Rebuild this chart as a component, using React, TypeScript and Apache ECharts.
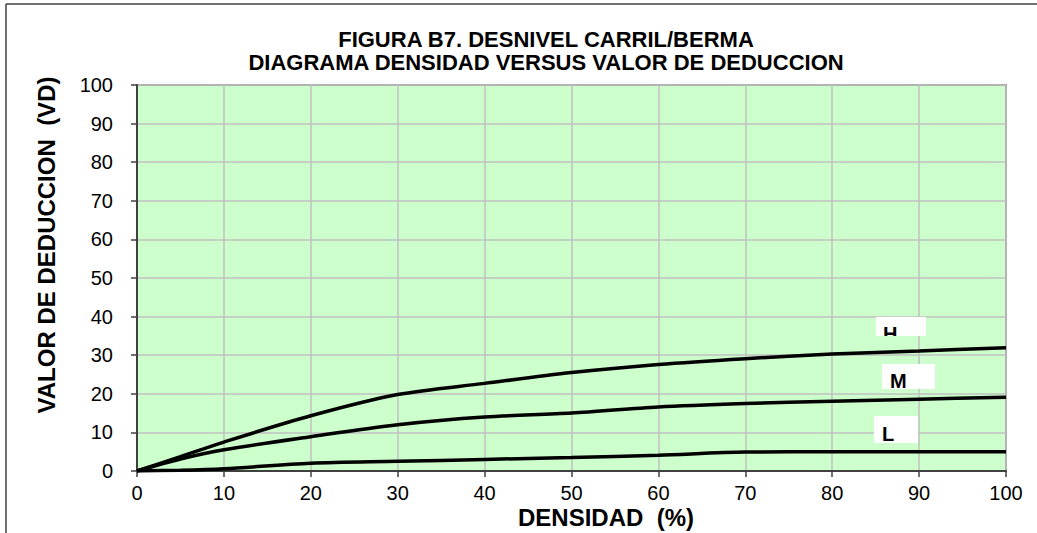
import React, { useEffect, useRef } from "react";
import * as echarts from "echarts";

const densidad = [0, 5, 10, 20, 30, 40, 50, 60, 70, 80, 90, 100];
const serieH = [0, 3.7, 7.5, 14.3, 19.8, 22.7, 25.5, 27.6, 29.1, 30.3, 31.1, 31.9];
const serieM = [0, 3.1, 5.5, 8.9, 12.0, 14.0, 15.0, 16.6, 17.5, 18.1, 18.6, 19.1];
const serieL = [0, 0.2, 0.6, 2.0, 2.5, 3.0, 3.5, 4.1, 4.9, 5.0, 5.0, 5.0];
const seriesNames = ["H", "M", "L"];
const titleLines = [
  "FIGURA B7. DESNIVEL CARRIL/BERMA",
  "DIAGRAMA DENSIDAD VERSUS VALOR DE DEDUCCION",
];
const xName = "DENSIDAD  (%)";
const yName = "VALOR DE DEDUCCION  (VD)";

const FONT = "Arial, 'Liberation Sans', sans-serif";

export default function App() {
  const ref = useRef<HTMLDivElement>(null);
  useEffect(() => {
    document.body.style.margin = "0";
    const chart = echarts.init(ref.current!, null, { renderer: "svg" });
    const mk = (vals: number[]) => densidad.map((x, i) => [x, vals[i]]);
    const lineStyle = { color: "#000", width: 3.5 };
    const series = [serieH, serieM, serieL].map((vals, i) => ({
      name: seriesNames[i],
      type: "line",
      data: mk(vals),
      smooth: 0.3,
      showSymbol: false,
      lineStyle,
      z: 5,
    }));
    const bold = (size: number) => ({ fontSize: size, fontWeight: "bold", fontFamily: FONT, fill: "#000" });
    chart.setOption({
      animation: false,
      grid: {
        left: 137,
        top: 85,
        right: 31,
        bottom: 62,
        show: true,
        backgroundColor: "#CCFFCC",
        borderColor: "#8c8c8c",
        borderWidth: 2,
      },
      xAxis: {
        type: "value",
        min: 0,
        max: 100,
        interval: 10,
        axisLine: { show: true, onZero: false, lineStyle: { color: "#404040", width: 2 } },
        axisTick: { show: true, length: 6, lineStyle: { color: "#404040", width: 1.5 } },
        axisLabel: { color: "#000", fontSize: 20, fontFamily: FONT, margin: 12 },
        splitLine: { show: true, lineStyle: { color: "#c0c0c0", width: 1.5 } },
      },
      yAxis: {
        type: "value",
        min: 0,
        max: 100,
        interval: 10,
        axisLine: { show: true, onZero: false, lineStyle: { color: "#404040", width: 2 } },
        axisTick: { show: true, length: 6, lineStyle: { color: "#404040", width: 1.5 } },
        axisLabel: { color: "#000", fontSize: 20, fontFamily: FONT, margin: 24 },
        splitLine: { show: true, lineStyle: { color: "#c0c0c0", width: 1.5 } },
      },
      series,
      graphic: [
        { type: "line", shape: { x1: 6, y1: 4, x2: 1037, y2: 4 }, style: { stroke: "#404040", lineWidth: 1.5 } },
        { type: "line", shape: { x1: 6, y1: 4, x2: 6, y2: 533 }, style: { stroke: "#404040", lineWidth: 1.5 } },
        {
          type: "text", x: 546, y: 39,
          style: { text: titleLines[0], ...bold(22), align: "center", verticalAlign: "middle" },
        },
        {
          type: "text", x: 546, y: 62,
          style: { text: titleLines[1], ...bold(22), align: "center", verticalAlign: "middle" },
        },
        {
          type: "text", x: 46, y: 245, rotation: Math.PI / 2,
          style: { text: yName, ...bold(24), align: "center", verticalAlign: "middle" },
        },
        {
          type: "text", x: 606, y: 517,
          style: { text: xName, ...bold(24), align: "center", verticalAlign: "middle" },
        },
        // H label box (letter clipped at the box's bottom edge)
        { type: "rect", shape: { x: 876, y: 317, width: 50, height: 19 }, style: { fill: "#fff" }, z: 10 },
        {
          type: "text", x: 883, y: 334, z: 11,
          style: { text: seriesNames[0], ...bold(20), align: "left", verticalAlign: "middle" },
        },
        { type: "rect", shape: { x: 878, y: 336, width: 26, height: 8 }, style: { fill: "#CCFFCC" }, z: 12 },
        // M label box
        { type: "rect", shape: { x: 882, y: 364, width: 53, height: 25 }, style: { fill: "#fff" }, z: 10 },
        {
          type: "text", x: 890, y: 381, z: 11,
          style: { text: seriesNames[1], ...bold(20), align: "left", verticalAlign: "middle" },
        },
        // L label box
        { type: "rect", shape: { x: 874, y: 416, width: 44, height: 27 }, style: { fill: "#fff" }, z: 10 },
        {
          type: "text", x: 882, y: 434, z: 11,
          style: { text: seriesNames[2], ...bold(20), align: "left", verticalAlign: "middle" },
        },
      ],
    });
    return () => chart.dispose();
  }, []);
  return <div ref={ref} style={{ width: 1037, height: 533 }} />;
}
